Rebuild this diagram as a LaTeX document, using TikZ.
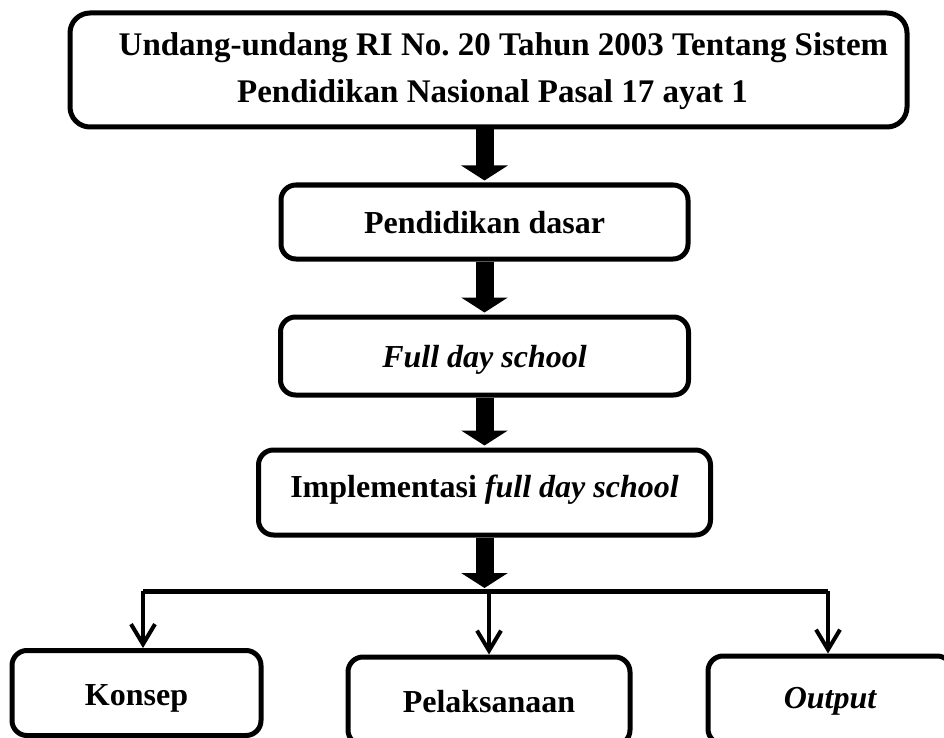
\documentclass[tikz,border=0pt]{standalone}
\usepackage{fontspec}
\setmainfont{Liberation Serif}
\usetikzlibrary{arrows.meta}
\frenchspacing
\begin{document}
\begin{tikzpicture}[x=1pt,y=-1pt,
  box/.style={draw, line width=5pt, rounded corners=15pt,
    font=\fontsize{32}{37}\selectfont\bfseries, inner sep=0pt, text height=22pt},
  blockarrow/.style={line width=18pt, -{Triangle[length=15pt,width=46pt]}},
  thinarrow/.style={line width=4pt, -{Straight Barb[length=20pt,width=24pt]}}]
\useasboundingbox (0,0) rectangle (944,738);
\clip (0,0) rectangle (944,738);

\node[box, rounded corners=20pt, minimum width=837pt, minimum height=114pt,
  font=\fontsize{33}{47}\selectfont\bfseries,
  align=center, text height=76pt, text depth=10pt] (law) at (488.5,70)
  {\hspace*{30pt}Undang-undang RI No. 20 Tahun 2003 Tentang Sistem\\\hspace*{8pt}Pendidikan Nasional Pasal 17 ayat 1};
\node[box, minimum width=407pt, minimum height=74pt, text depth=0pt] (dasar) at (484.5,222) {Pendidikan dasar};
\node[box, minimum width=408pt, minimum height=78pt, text depth=0pt] (fds) at (484.5,356) {\itshape Full day school};
\node[box, minimum width=452pt, minimum height=85pt, text depth=13pt] (impl) at (484.5,492.5) {Implementasi \textit{full day school}};
\node[box, minimum width=249pt, minimum height=85pt, text height=28pt, text depth=3pt] (konsep) at (136.5,693) {Konsep};
\node[box, minimum width=282pt, minimum height=88pt, text depth=0pt] (pel) at (489,701) {Pelaksanaan};
\node[box, minimum width=244pt, minimum height=88pt, text depth=6pt] (out) at (830,700) {\itshape Output};

\draw[blockarrow, shorten >=2pt] (dasar.north |- law.south) -- (dasar.north);
\draw[blockarrow, shorten >=2pt] (dasar.south) -- (fds.north);
\draw[blockarrow, shorten >=2pt] (fds.south) -- (impl.north);

\coordinate (fork) at (484.5,591);
\coordinate (fl) at (143,591);
\coordinate (fr) at (828,591);
\draw[blockarrow, shorten >=3pt] (impl.south) -- (fork);
\draw[line width=5pt] (fl) -- (fr);
\draw[thinarrow] (fl) -- (fl |- konsep.north);
\draw[thinarrow] (pel.north |- fork) -- (pel.north);
\draw[thinarrow] (fr) -- (fr |- out.north);
\end{tikzpicture}
\end{document}
